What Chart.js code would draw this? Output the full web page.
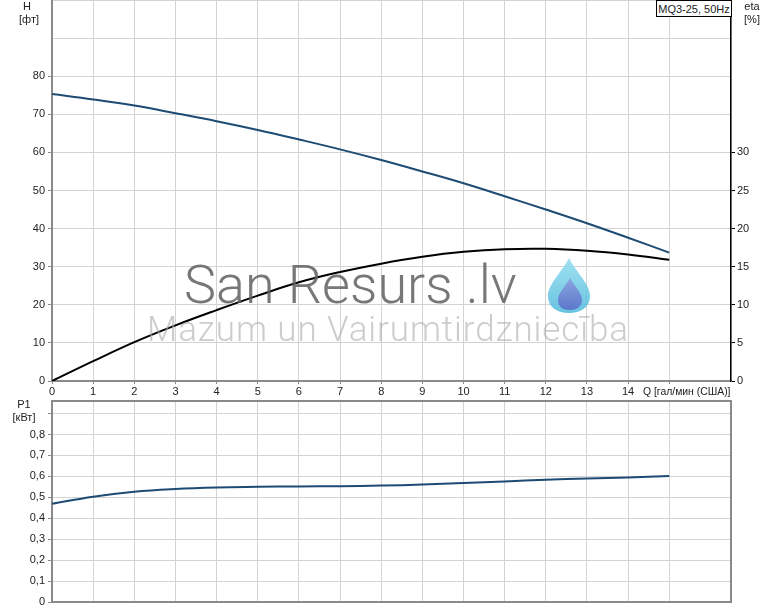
<!DOCTYPE html>
<html><head><meta charset="utf-8">
<script src="https://cdn.jsdelivr.net/npm/chart.js@4"></script>
<style>
body{margin:0;background:#fff;width:774px;height:611px;overflow:hidden;position:relative;font-family:"Liberation Sans",Arial,sans-serif;}
canvas{position:absolute;left:0;}
.t{position:absolute;font-size:11px;color:#222;text-align:center;line-height:13px;white-space:nowrap;}
.wm{position:absolute;font-family:Roboto,"Open Sans",sans-serif;font-weight:300;white-space:nowrap;pointer-events:none;}
</style></head><body>
<canvas id="top" width="774" height="400" style="top:0"></canvas>
<canvas id="bot" width="774" height="221" style="top:390px"></canvas>

<div class="t" style="left:17px;top:0;width:20px;">H</div>
<div class="t" style="left:14px;top:13px;width:30px;">[фт]</div>
<div class="t" style="left:740px;top:0;width:24px;">eta</div>
<div class="t" style="left:740px;top:13px;width:24px;">[%]</div>
<div class="t" style="left:12px;top:398px;width:24px;">P1</div>
<div class="t" style="left:7px;top:411px;width:34px;">[кВт]</div>
<div class="t" style="left:643px;top:385px;text-align:left;font-size:10.4px;">Q [гал/мин (США)]</div>
<div class="t" style="left:656px;top:0;width:76px;height:17px;line-height:16px;border:1px solid #000;background:#fff;box-sizing:border-box;">MQ3-25, 50Hz</div>

<div class="wm" style="left:184px;top:253px;font-size:54px;color:rgba(95,95,95,0.85);">San Resurs .lv</div>
<div class="wm" style="left:147px;top:309px;font-size:35px;letter-spacing:0.9px;color:rgba(170,170,170,0.6);">Mazum un Vairumtirdzniecība</div>
<svg style="position:absolute;left:546px;top:256px;" width="46" height="58" viewBox="0 0 46 58">
<defs><linearGradient id="g1" x1="0" y1="0" x2="0" y2="1"><stop offset="0" stop-color="#8fdcef"/><stop offset="1" stop-color="#4fb9dc"/></linearGradient>
<linearGradient id="g2" x1="0" y1="0" x2="0" y2="1"><stop offset="0" stop-color="#8a9fe0"/><stop offset="1" stop-color="#5b6fc8"/></linearGradient></defs>
<path d="M23 2 C30 16 44 28 44 40 C44 51 35 57 23 57 C11 57 2 51 2 40 C2 28 16 16 23 2 Z" fill="url(#g1)" opacity="0.85"/>
<path d="M24 22 C29 31 36 37 36 44 C36 51 30 54 24 54 C17 54 12 51 12 44 C12 37 19 31 24 22 Z" fill="url(#g2)" opacity="0.9"/>
</svg>

<script>
const flow = [0,1,2,3,4,5,6,7,8,9,10,11,12,13,14,15];
const head = [75.3,73.9,72.3,70.3,68.2,65.9,63.4,60.8,58.0,55.0,51.9,48.5,45.0,41.4,37.6,33.7];
const efficiency = [0,2.6,5.1,7.3,9.3,11.2,12.95,14.3,15.4,16.3,16.95,17.3,17.35,17.1,16.6,15.9];
const power = [0.469,0.503,0.527,0.540,0.547,0.550,0.552,0.553,0.556,0.561,0.568,0.576,0.584,0.590,0.595,0.602];
const xTicksShown = [0,1,2,3,4,5,6,7,8,9,10,11,12,13,14];
const hTickMax = 80, etaTickMax = 30, pTickMax = 0.8;

const pts = (ys) => flow.map((x,i)=>({x, y: ys[i]}));
const FONT = {family:'"Liberation Sans", Arial, sans-serif', size:11};
const GRID = '#d3d3d3', AXIS = '#8a8a8a', BLUE = '#1d4b73';
const noPad = (s) => { s.paddingTop = 0; s.paddingBottom = 0; s.paddingLeft = 0; s.paddingRight = 0; };

const xScale = (showLabels, h) => ({
  type:'linear', min:0, max:16.5,
  ticks:{stepSize:1, display:showLabels, color:'#222', font:FONT, padding:1, maxRotation:0, autoSkip:false,
    callback:(v)=> xTicksShown.includes(v) ? String(v) : ''},
  grid:{color:GRID, drawTicks:showLabels, tickLength:3,
    tickColor:(c)=> (c.tick && c.tick.value <= 16) ? AXIS : 'rgba(0,0,0,0)'},
  border:{color:AXIS, width:2},
  afterFit:(s)=>{s.height=h; noPad(s);}
});

const borderPlugin = {
  id:'frame',
  afterDraw(chart, args, opts){
    if(!opts || !opts.on) return;
    const {ctx, chartArea:a} = chart;
    ctx.save();
    ctx.strokeStyle = AXIS; ctx.lineWidth = 2;
    ctx.beginPath();
    ctx.moveTo(a.left, a.top); ctx.lineTo(a.right, a.top); ctx.lineTo(a.right, a.bottom);
    ctx.stroke();
    ctx.restore();
  }
};

new Chart(document.getElementById('top'), {
  type:'scatter',
  data:{datasets:[
    {data:pts(head), yAxisID:'y', showLine:true, borderColor:BLUE, borderWidth:2, pointRadius:0, tension:0.4},
    {data:pts(efficiency), yAxisID:'y2', showLine:true, borderColor:'#000', borderWidth:2, pointRadius:0, tension:0.4}
  ]},
  options:{
    responsive:false, animation:false, devicePixelRatio:1,
    layout:{padding:0},
    plugins:{legend:{display:false}, tooltip:{enabled:false}},
    scales:{
      x: xScale(true, 19),
      y:{type:'linear', position:'left', min:0, max:100,
        ticks:{stepSize:10, color:'#222', font:FONT, padding:3, callback:(v)=> v<=hTickMax ? String(v) : ''},
        grid:{color:GRID, tickLength:4, tickColor:(c)=> (c.tick && c.tick.value <= hTickMax) ? AXIS : 'rgba(0,0,0,0)'},
        border:{color:AXIS, width:2},
        afterFit:(s)=>{s.width=52; noPad(s);}},
      y2:{type:'linear', position:'right', min:0, max:50,
        ticks:{stepSize:5, color:'#222', font:FONT, padding:2, callback:(v)=> v<=etaTickMax ? String(v) : ''},
        grid:{drawOnChartArea:false, tickLength:4, tickColor:(c)=> (c.tick && c.tick.value <= etaTickMax) ? '#000' : 'rgba(0,0,0,0)'},
        border:{color:'#000', width:1.5},
        afterFit:(s)=>{s.width=43; noPad(s);}}
    }
  }
});

new Chart(document.getElementById('bot'), {
  type:'scatter',
  data:{datasets:[
    {data:pts(power), showLine:true, borderColor:BLUE, borderWidth:2, pointRadius:0, tension:0.4}
  ]},
  options:{
    responsive:false, animation:false, devicePixelRatio:1,
    layout:{padding:{top:11, right:43, left:0, bottom:0}},
    plugins:{legend:{display:false}, tooltip:{enabled:false}, frame:{on:true}},
    scales:{
      x: xScale(false, 9),
      y:{type:'linear', position:'left', min:0, max:0.96,
        ticks:{stepSize:0.1, color:'#222', font:FONT, padding:3,
          callback:(v)=> v<=pTickMax+1e-9 ? (v===0 ? '0' : v.toFixed(1).replace('.',',')) : ''},
        grid:{color:GRID, tickLength:4, tickColor:(c)=> (c.tick && c.tick.value <= 0.9+1e-9) ? AXIS : 'rgba(0,0,0,0)'},
        border:{color:AXIS, width:2},
        afterFit:(s)=>{s.width=52; noPad(s);}}
    }
  },
  plugins:[borderPlugin]
});
</script>
</body></html>
